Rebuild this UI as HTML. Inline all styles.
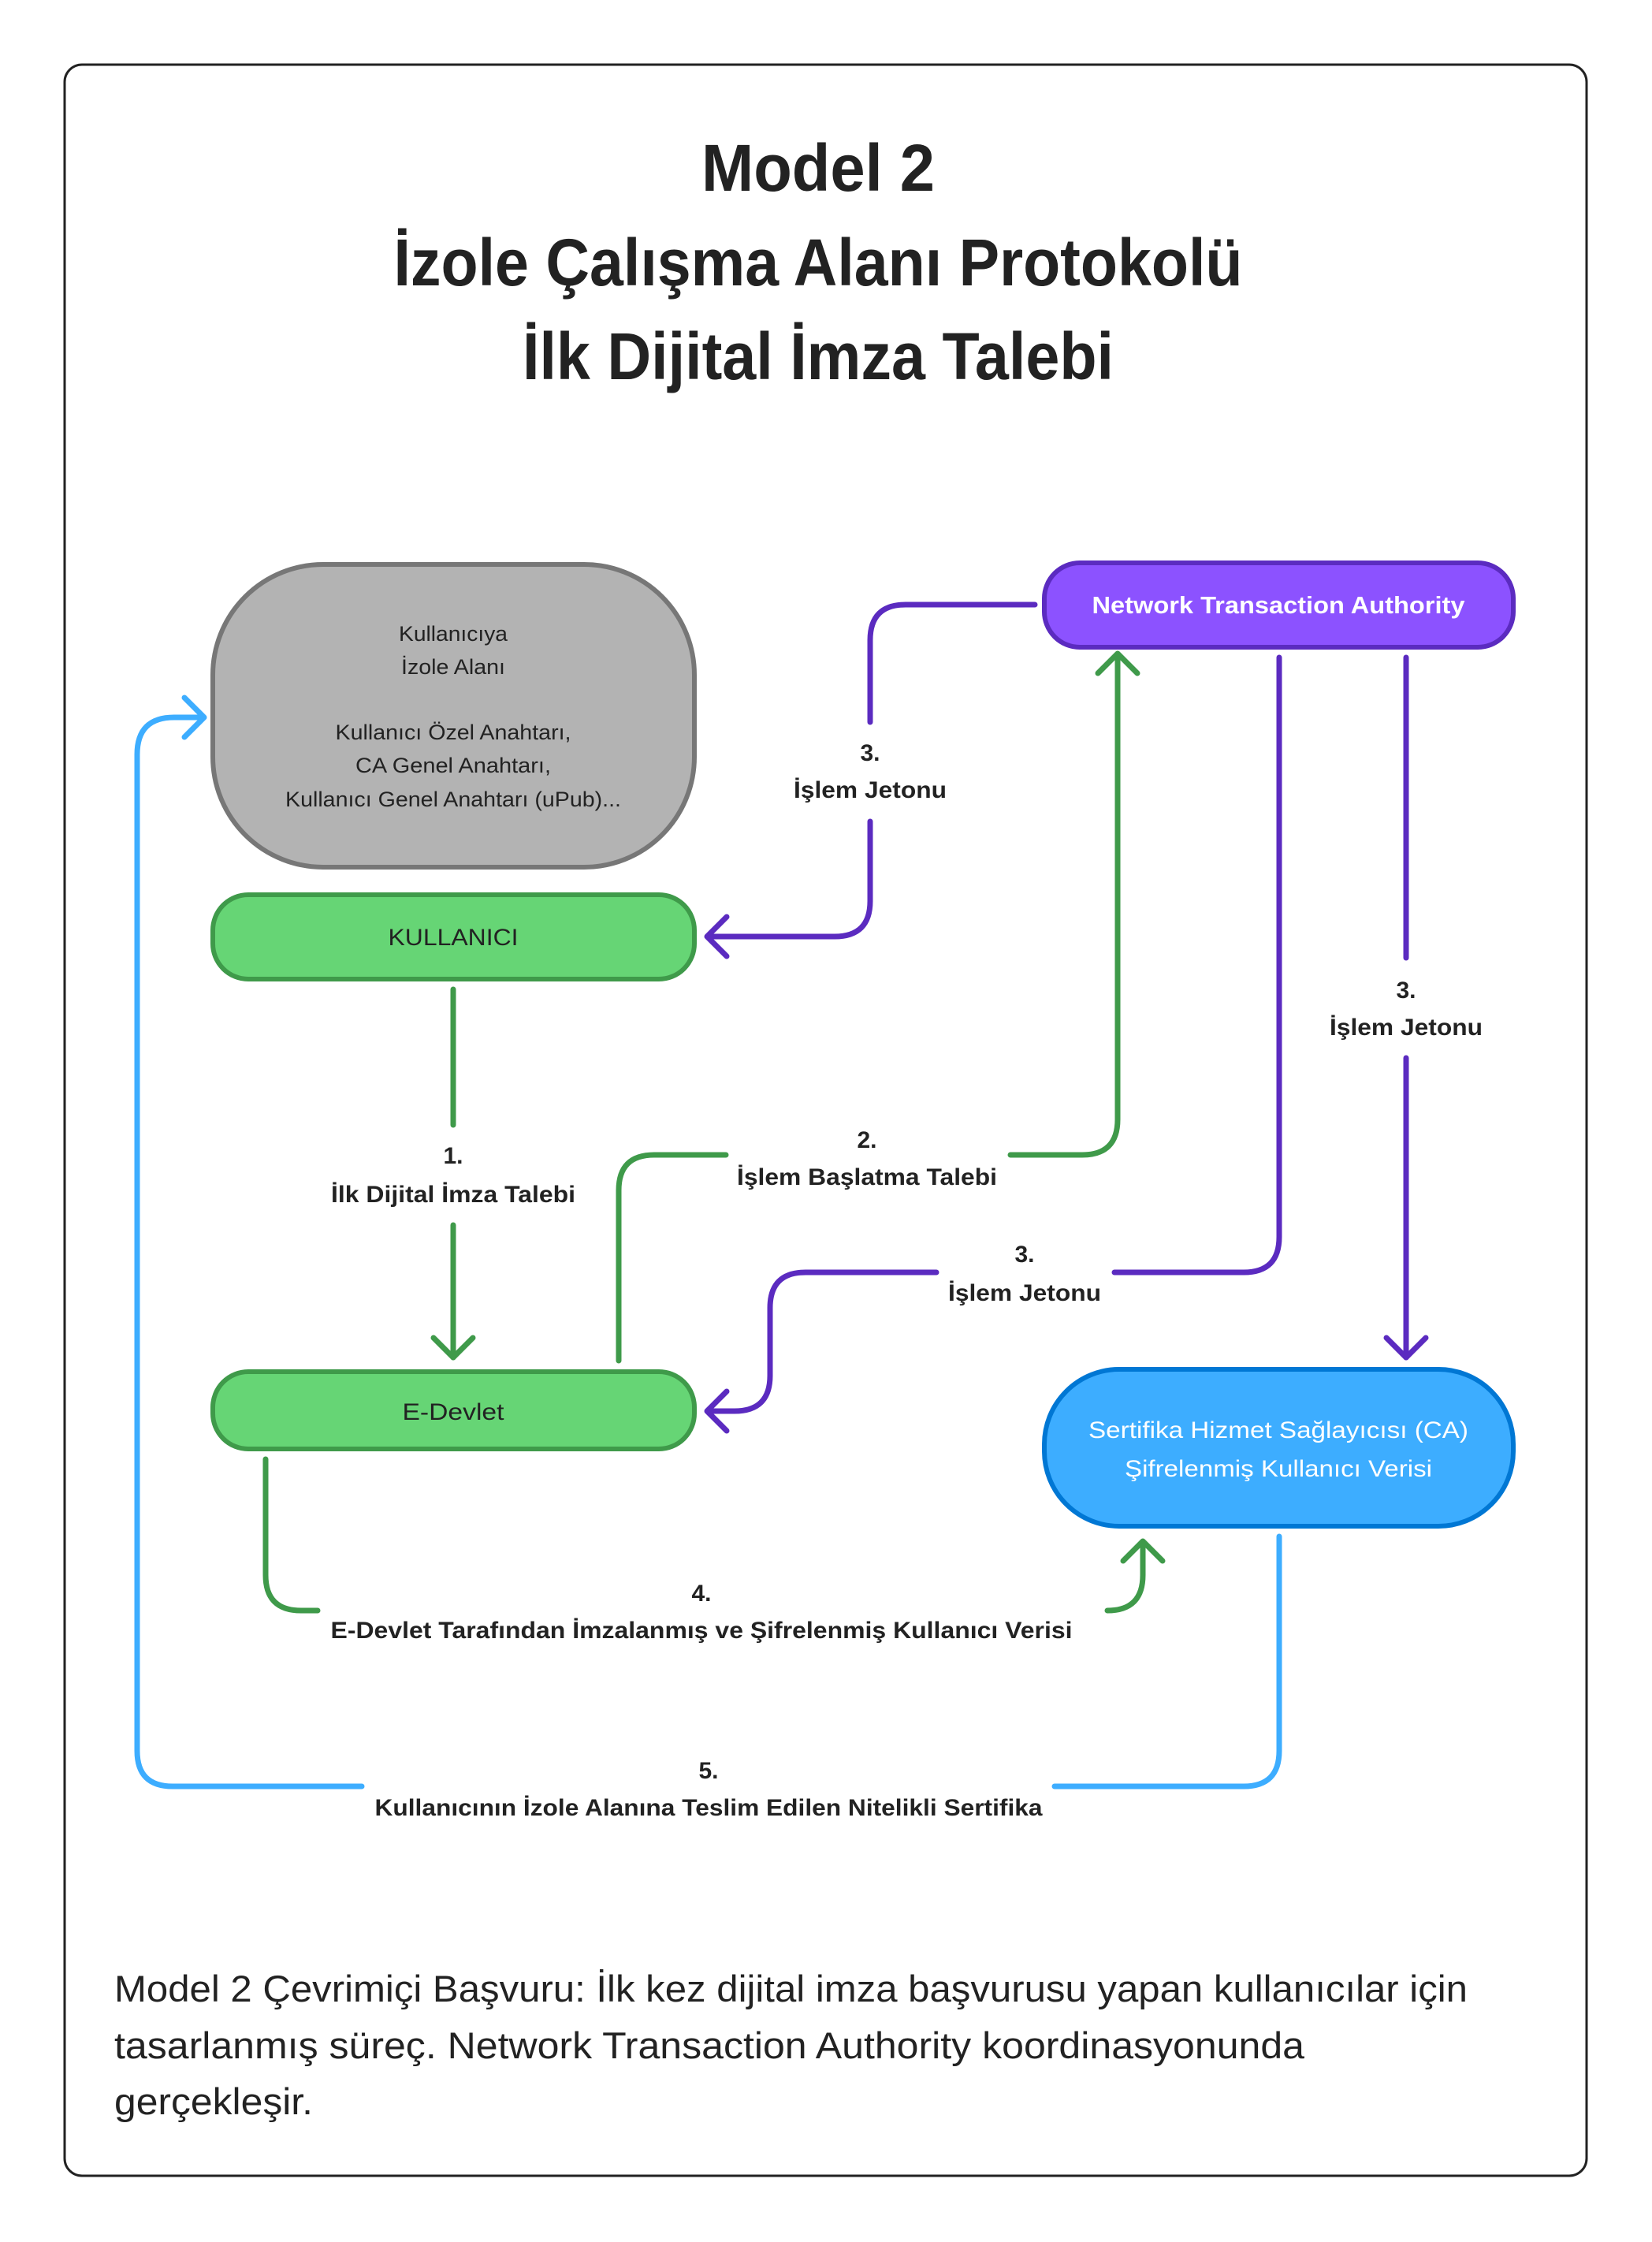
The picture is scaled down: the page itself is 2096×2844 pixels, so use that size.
<!DOCTYPE html>
<html><head><meta charset="utf-8"><style>
html,body{margin:0;padding:0;background:#fff;}
svg{display:block;}
text{font-family:"Liberation Sans",sans-serif;}
</style></head><body>
<svg width="2096" height="2844" viewBox="0 0 2096 2844" xmlns="http://www.w3.org/2000/svg">
<rect x="82" y="82" width="1931" height="2678" rx="22" fill="#fff" stroke="#222" stroke-width="3"/>
<g font-weight="bold" fill="#222" font-size="84" text-anchor="middle">
<text x="1038" y="242" textLength="296" lengthAdjust="spacingAndGlyphs">Model 2</text>
<text x="1038" y="362" textLength="1077" lengthAdjust="spacingAndGlyphs">İzole Çalışma Alanı Protokolü</text>
<text x="1038" y="481" textLength="750" lengthAdjust="spacingAndGlyphs">İlk Dijital İmza Talebi</text>
</g>
<!-- connectors -->
<g fill="none" stroke-width="7" stroke-linecap="round" stroke-linejoin="round">
<g stroke="#5b2bc0">
<path d="M1313 767 H1149 Q1104 767 1104 812 V916"/>
<path d="M1104 1042 V1143 Q1104 1188 1059 1188 H900"/>
<polyline points="922,1163 897,1188 922,1213"/>
<path d="M1623 834 V1569 Q1623 1614 1578 1614 H1414"/>
<path d="M1188 1614 H1022 Q977 1614 977 1659 V1745 Q977 1790 932 1790 H900"/>
<polyline points="922,1765 897,1790 922,1815"/>
<path d="M1784 834 V1215"/>
<path d="M1784 1342 V1722"/>
<polyline points="1759,1697 1784,1722 1809,1697"/>
</g>
<g stroke="#3f9a4a">
<path d="M575 1255 V1427"/>
<path d="M575 1554 V1722"/>
<polyline points="550,1697 575,1722 600,1697"/>
<path d="M785 1726 V1510 Q785 1465 830 1465 H921"/>
<path d="M1282 1465 H1373 Q1418 1465 1418 1420 V832"/>
<polyline points="1393,854 1418,829 1443,854"/>
<path d="M337 1851 V1998 Q337 2043 382 2043 H403"/>
<path d="M1405 2043 Q1450 2043 1450 1998 V1958"/>
<polyline points="1425,1980 1450,1955 1475,1980"/>
</g>
<g stroke="#3dadff">
<path d="M1623 1949 V2221 Q1623 2266 1578 2266 H1338"/>
<path d="M459 2266 H219 Q174 2266 174 2221 V957 Q174 910 221 910 H256"/>
<polyline points="234,885 259,910 234,935"/>
</g>
</g>
<!-- nodes -->
<rect x="270" y="716" width="611" height="384" rx="140" fill="#b3b3b3" stroke="#777" stroke-width="6"/>
<g font-size="27" fill="#222" text-anchor="middle">
<text x="575" y="813" textLength="138" lengthAdjust="spacingAndGlyphs">Kullanıcıya</text>
<text x="575" y="855" textLength="132" lengthAdjust="spacingAndGlyphs">İzole Alanı</text>
<text x="575" y="938" textLength="299" lengthAdjust="spacingAndGlyphs">Kullanıcı Özel Anahtarı,</text>
<text x="575" y="980" textLength="248" lengthAdjust="spacingAndGlyphs">CA Genel Anahtarı,</text>
<text x="575" y="1023" textLength="426" lengthAdjust="spacingAndGlyphs">Kullanıcı Genel Anahtarı (uPub)...</text>
</g>
<rect x="270" y="1135" width="611" height="107" rx="45" fill="#66d575" stroke="#3f9a4a" stroke-width="6"/>
<text x="575" y="1199" font-size="30" fill="#222" text-anchor="middle" textLength="165" lengthAdjust="spacingAndGlyphs">KULLANICI</text>
<rect x="270" y="1740" width="611" height="98" rx="45" fill="#66d575" stroke="#3f9a4a" stroke-width="6"/>
<text x="575" y="1801" font-size="30" fill="#222" text-anchor="middle" textLength="129" lengthAdjust="spacingAndGlyphs">E-Devlet</text>
<rect x="1325" y="714" width="595" height="107" rx="45" fill="#8c52ff" stroke="#5b2bc0" stroke-width="6"/>
<text x="1622" y="778" font-size="31" font-weight="bold" fill="#fff" text-anchor="middle" textLength="473" lengthAdjust="spacingAndGlyphs">Network Transaction Authority</text>
<rect x="1325" y="1737" width="595" height="199" rx="95" fill="#3dadff" stroke="#0077d4" stroke-width="6"/>
<g font-size="30" fill="#fff" text-anchor="middle">
<text x="1622" y="1824" textLength="482" lengthAdjust="spacingAndGlyphs">Sertifika Hizmet Sağlayıcısı (CA)</text>
<text x="1622" y="1873" textLength="390" lengthAdjust="spacingAndGlyphs">Şifrelenmiş Kullanıcı Verisi</text>
</g>
<!-- labels -->
<g font-size="30" font-weight="bold" fill="#222" text-anchor="middle">
<text x="1104" y="965">3.</text>
<text x="1104" y="1012" textLength="194" lengthAdjust="spacingAndGlyphs">İşlem Jetonu</text>
<text x="1784" y="1266">3.</text>
<text x="1784" y="1313" textLength="194" lengthAdjust="spacingAndGlyphs">İşlem Jetonu</text>
<text x="1300" y="1601">3.</text>
<text x="1300" y="1650" textLength="194" lengthAdjust="spacingAndGlyphs">İşlem Jetonu</text>
<text x="575" y="1476">1.</text>
<text x="575" y="1525" textLength="310" lengthAdjust="spacingAndGlyphs">İlk Dijital İmza Talebi</text>
<text x="1100" y="1456">2.</text>
<text x="1100" y="1503" textLength="330" lengthAdjust="spacingAndGlyphs">İşlem Başlatma Talebi</text>
<text x="890" y="2031">4.</text>
<text x="890" y="2078" textLength="941" lengthAdjust="spacingAndGlyphs">E-Devlet Tarafından İmzalanmış ve Şifrelenmiş Kullanıcı Verisi</text>
<text x="899" y="2256">5.</text>
<text x="899" y="2303" textLength="847" lengthAdjust="spacingAndGlyphs">Kullanıcının İzole Alanına Teslim Edilen Nitelikli Sertifika</text>
</g>
<g font-size="47" fill="#222">
<text x="145" y="2539" textLength="1717" lengthAdjust="spacingAndGlyphs">Model 2 Çevrimiçi Başvuru: İlk kez dijital imza başvurusu yapan kullanıcılar için</text>
<text x="145" y="2611" textLength="1510" lengthAdjust="spacingAndGlyphs">tasarlanmış süreç. Network Transaction Authority koordinasyonunda</text>
<text x="145" y="2682" textLength="252" lengthAdjust="spacingAndGlyphs">gerçekleşir.</text>
</g>
</svg>
</body></html>
